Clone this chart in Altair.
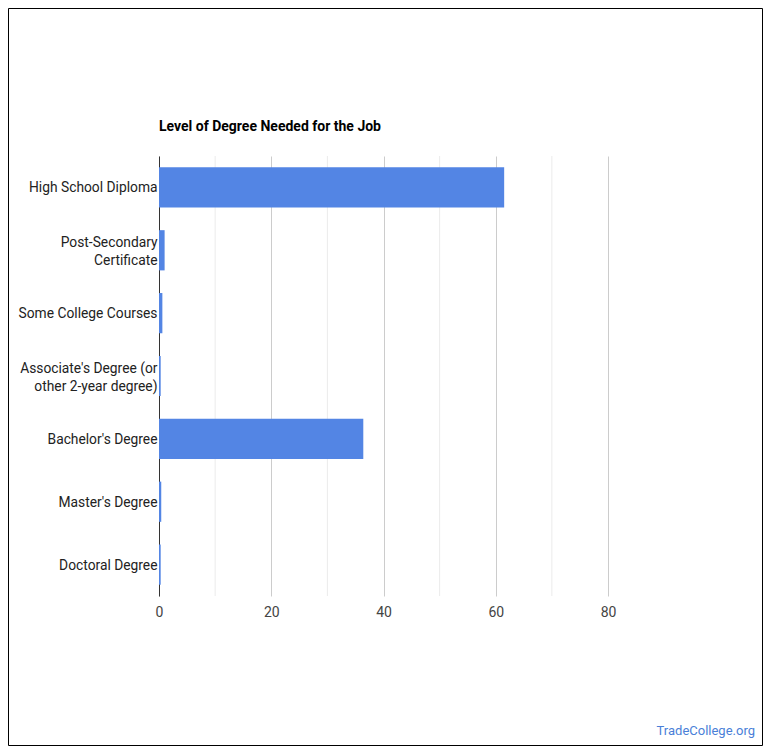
import altair as alt
import pandas as pd

categories = [
    "High School Diploma",
    "Post-Secondary|Certificate",
    "Some College Courses",
    "Associate's Degree (or|other 2-year degree)",
    "Bachelor's Degree",
    "Master's Degree",
    "Doctoral Degree",
]
values = [61.5, 1.0, 0.6, 0.3, 36.4, 0.4, 0.3]
major_ticks = [0, 20, 40, 60, 80]
minor_ticks = [10, 30, 50, 70]
title_text = "Level of Degree Needed for the Job"
source_text = "TradeCollege.org"

df = pd.DataFrame({"degree": categories, "pct": values})
minor_df = pd.DataFrame({"v": minor_ticks})

W, H = 449, 440
LEFT, TOP = 159, 156

xscale = alt.Scale(domain=[0, 80], nice=False)
xaxis = alt.Axis(
    values=major_ticks,
    title=None,
    grid=True,
    gridColor="#cccccc",
    domain=False,
    ticks=False,
    labelFlush=False,
    labelPadding=9,
    labelFont="Roboto",
    labelFontSize=14,
    labelColor="#444444",
)

minor = alt.Chart(minor_df).mark_rule(color="#ebebeb", strokeWidth=1).encode(
    x=alt.X("v:Q", scale=xscale, axis=xaxis)
)

bars = alt.Chart(df).mark_bar(color="#5385e4").encode(
    x=alt.X("pct:Q", scale=xscale, axis=xaxis),
    y=alt.Y(
        "degree:N",
        sort=categories,
        scale=alt.Scale(paddingInner=0.36, paddingOuter=0.18),
        axis=alt.Axis(
            title=None,
            domain=True,
            domainColor="#333333",
            ticks=False,
            labelPadding=2,
            labelFont="Roboto",
            labelFontSize=13.8,
            labelColor="#222222",
            labelLineHeight=18,
            labelOffset={
                "condition": {"test": "indexof(datum.value, '|') >= 0", "value": -7},
                "value": 1,
            },
            labelExpr="split(datum.label, '|')",
        ),
    ),
)

border = alt.Chart(pd.DataFrame({"a": [0]})).mark_rect(
    fill=None, stroke="#000000", strokeWidth=1, clip=False
).encode(
    x=alt.value(8 - LEFT + 0.5),
    x2=alt.value(762 - LEFT + 0.5),
    y=alt.value(8 - TOP + 0.5),
    y2=alt.value(745 - TOP + 0.5),
)

title = alt.Chart(pd.DataFrame({"t": [title_text]})).mark_text(
    align="left", baseline="alphabetic", font="Roboto", fontSize=14,
    fontWeight="bold", color="#000000"
).encode(
    text="t:N",
    x=alt.value(0),
    y=alt.value(131 - TOP),
)

watermark = alt.Chart(pd.DataFrame({"t": [source_text]})).mark_text(
    align="right", baseline="middle", font="Roboto", fontSize=13, color="#4a7fd8"
).encode(
    text="t:N",
    x=alt.value(755 - LEFT),
    y=alt.value(731 - TOP),
)

chart = alt.layer(minor, bars, border, title, watermark).properties(
    width=W,
    height=H,
    autosize=alt.AutoSizeParams(type="none"),
    padding={"left": LEFT, "top": TOP, "right": 770 - LEFT - W, "bottom": 754 - TOP - H},
).configure(background="#ffffff").configure_view(strokeWidth=0)

chart.save("out.html", embed_options={"renderer": "svg", "actions": False})
